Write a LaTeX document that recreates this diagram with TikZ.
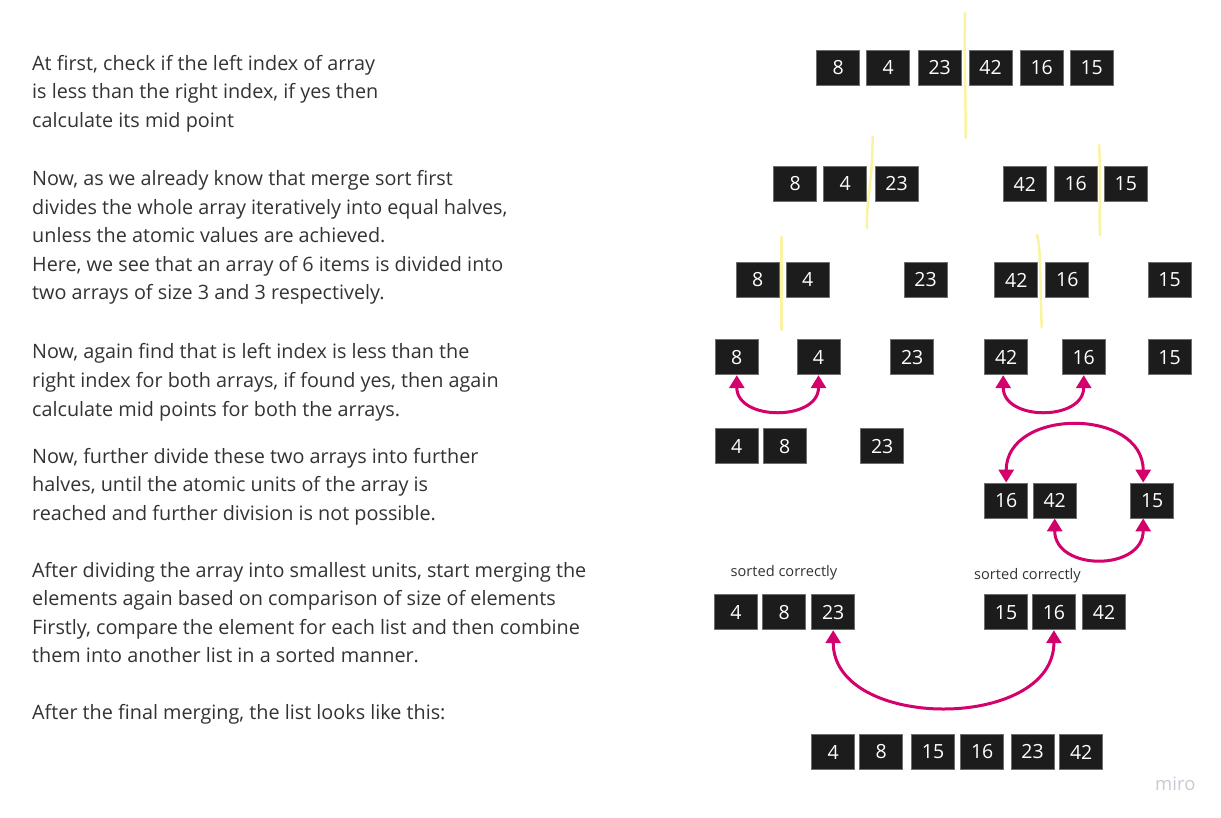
\documentclass[tikz,border=0pt]{standalone}
\usepackage{fontspec}
\setmainfont{Open Sans}
\usetikzlibrary{arrows.meta}
\definecolor{cellfill}{HTML}{1C1C1C}
\definecolor{cellline}{HTML}{6E6E6E}
\definecolor{arrowc}{HTML}{D4006C}
\definecolor{hl}{HTML}{FAF3A2}
\definecolor{txt}{HTML}{333333}
\definecolor{miroc}{HTML}{C7CBD4}
\begin{document}
\begin{tikzpicture}[x=1pt,y=-1pt,
 cell/.style={fill=cellfill,draw=cellline,line width=0.8pt,minimum width=43pt,minimum height=35pt,inner sep=0pt,text=white,font=\fontsize{19.5}{19.5}\selectfont},
 para/.style={anchor=base west,inner sep=0pt,text=txt,font=\fontsize{19.8}{22}\selectfont},
 note/.style={anchor=base west,inner sep=0pt,text=txt,font=\fontsize{14.6}{16}\selectfont},
 swap/.style={draw=arrowc,line width=3pt,{Triangle[length=13pt 0,width=15pt 0]}-{Triangle[length=13pt 0,width=15pt 0]}},
 cut/.style={draw=hl,line width=2.5pt,line cap=round}]
\useasboundingbox[fill=white] (0,0) rectangle (1221,818);

% left text
\node[para] (t1) at (32,70.5) {At first, check if the left index of array};
\node[para] (t2) at (32,99) {is less than the right index, if yes then};
\node[para] (t3) at (32,127.5) {calculate its mid point};
\node[para] (t4) at (32,186) {Now, as we already know that merge sort first};
\node[para] (t5) at (32,214.5) {divides the whole array iteratively into equal halves,};
\node[para] (t6) at (32,243) {unless the atomic values are achieved.};
\node[para] (t7) at (32,271.5) {Here, we see that an array of 6 items is divided into};
\node[para] (t8) at (32,300) {two arrays of size 3 and 3 respectively.};
\node[para] (t9) at (32,359) {Now, again find that is left index is less than the};
\node[para] (t10) at (32,387.5) {right index for both arrays, if found yes, then again};
\node[para] (t11) at (32,416) {calculate mid points for both the arrays.};
\node[para] (t12) at (32,463) {Now, further divide these two arrays into further};
\node[para] (t13) at (32,491.5) {halves, until the atomic units of the array is};
\node[para] (t14) at (32,520) {reached and further division is not possible.};
\node[para] (t15) at (32,577) {After dividing the array into smallest units, start merging the};
\node[para] (t16) at (32,605.5) {elements again based on comparison of size of elements};
\node[para] (t17) at (32,634) {Firstly, compare the element for each list and then combine};
\node[para] (t18) at (32,662.5) {them into another list in a sorted manner.};
\node[para] (t19) at (32,719) {After the final merging, the list looks like this:};

% row 1
\node[cell] (r1a) at (838.3,67.7) {8};
\node[cell] (r1b) at (888.3,67.7) {4};
\node[cell] (r1c) at (939.7,67.7) {23};
\node[cell] (r1d) at (990.5,67.7) {42};
\node[cell] (r1e) at (1041.7,67.7) {16};
\node[cell] (r1f) at (1091.7,67.7) {15};
% row 2
\node[cell] (r2a) at (795.3,184) {8};
\node[cell] (r2b) at (845.3,184) {4};
\node[cell] (r2c) at (896.5,184) {23};
\node[cell] (r2d) at (1024.8,184) {42};
\node[cell] (r2e) at (1075.7,184) {16};
\node[cell] (r2f) at (1125.8,184) {15};
% row 3
\node[cell] (r3a) at (757.7,280) {8};
\node[cell] (r3b) at (807.8,280) {4};
\node[cell] (r3c) at (925.5,280) {23};
\node[cell] (r3d) at (1016.3,280) {42};
\node[cell] (r3e) at (1067.3,280) {16};
\node[cell] (r3f) at (1169.5,280) {15};
% row 4
\node[cell] (r4a) at (736.8,357.3) {8};
\node[cell] (r4b) at (818.5,357.3) {4};
\node[cell] (r4c) at (912.2,357.3) {23};
\node[cell] (r4d) at (1006.2,357.3) {42};
\node[cell] (r4e) at (1083.7,357.3) {16};
\node[cell] (r4f) at (1169.5,357.3) {15};
% row 5
\node[cell] (r5a) at (736.8,446.3) {4};
\node[cell] (r5b) at (784.8,446.3) {8};
\node[cell] (r5c) at (882.2,446.3) {23};
% row 6
\node[cell] (r6a) at (1006.2,500.5) {16};
\node[cell] (r6b) at (1054.7,500.5) {42};
\node[cell] (r6c) at (1152.2,500.5) {15};
% row 7
\node[note] (l1) at (730.5,576.5) {sorted correctly};
\node[note] (l2) at (974,579.3) {sorted correctly};
\node[cell] (r7a) at (736,612.3) {4};
\node[cell] (r7b) at (784.2,612.3) {8};
\node[cell] (r7c) at (833.2,612.3) {23};
\node[cell] (r7d) at (1006,612.3) {15};
\node[cell] (r7e) at (1053.9,612.3) {16};
\node[cell] (r7f) at (1104,612.3) {42};
% row 8
\node[cell] (r8a) at (833.2,752) {4};
\node[cell] (r8b) at (881.2,752) {8};
\node[cell] (r8c) at (933,752) {15};
\node[cell] (r8d) at (982.2,752) {16};
\node[cell] (r8e) at (1032.5,752) {23};
\node[cell] (r8f) at (1081.2,752) {42};

% watermark
\node[anchor=base west,inner sep=0pt,text=miroc,font=\fontsize{18.5}{19}\selectfont] (miro) at (1155,790) {miro};

% yellow split marks
\draw[cut] (965,13) .. controls (964,60) and (966,100) .. (965.5,138);
\draw[cut] (872.5,137) .. controls (873,180) and (866,200) .. (867,228);
\draw[cut] (1099,145) .. controls (1101,180) and (1099,210) .. (1100,235);
\draw[cut] (781.5,237) -- (781.5,330);
\draw[cut] (1037,235) .. controls (1041,250) and (1040,280) .. (1041.7,327);

% swap arrows
\draw[swap] (r4a.south) .. controls +(0,46) and +(0,46) .. (r4b.south);
\draw[swap] ([xshift=-3pt]r4d.south) .. controls +(0,46) and +(0,46) .. (r4e.south);
\draw[swap] (r6a.north) .. controls +(0,-75) and +(0,-75) .. ([xshift=-9pt]r6c.north);
\draw[swap] (r6b.south) .. controls +(0,53) and +(0,53) .. ([xshift=-9pt]r6c.south);
\draw[swap] (r7c.south) .. controls +(0,101) and +(0,101) .. (r7e.south);
\end{tikzpicture}
\end{document}
